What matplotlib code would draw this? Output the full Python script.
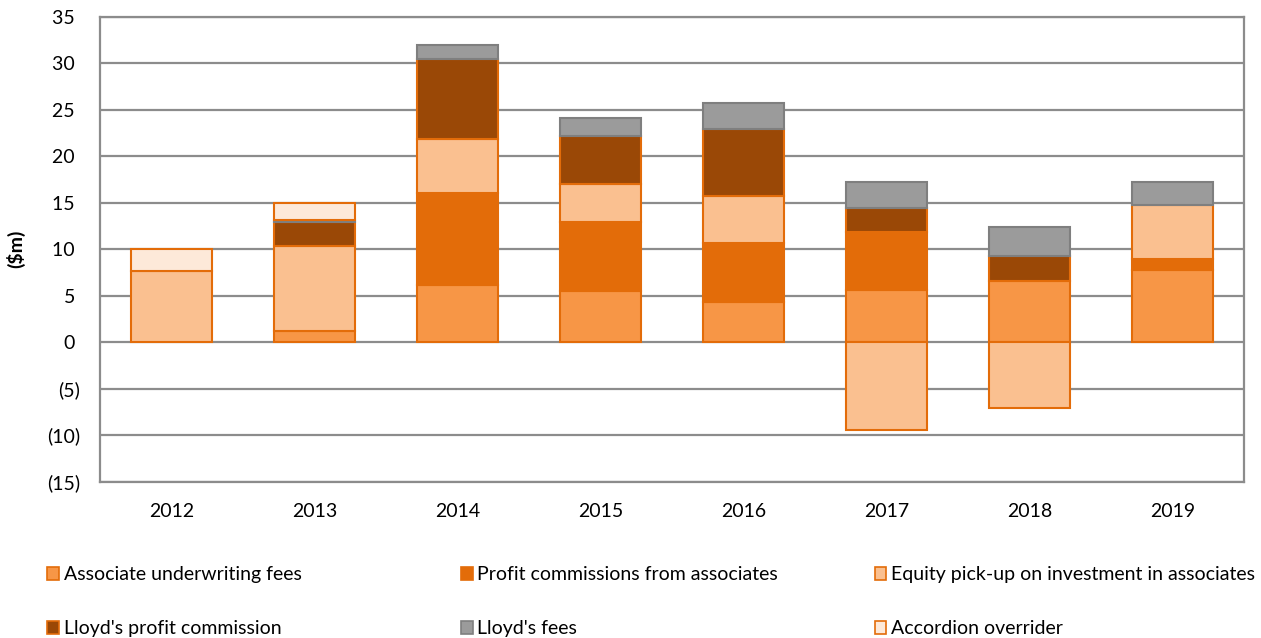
import matplotlib
matplotlib.use("Agg")
import matplotlib.pyplot as plt
import numpy as np
from matplotlib.patches import Patch

plt.rcParams['font.family'] = ['Lato', 'DejaVu Sans']

years = ['2012', '2013', '2014', '2015', '2016', '2017', '2018', '2019']
associate_fees = [0.0, 1.2, 6.1, 5.5, 4.3, 5.6, 6.6, 7.8]
profit_comm_assoc = [0.0, 0.0, 9.9, 7.4, 6.4, 6.2, 0.0, 1.1]
equity_pickup = [7.7, 9.1, 5.8, 4.1, 5.0, -9.4, -7.1, 5.8]
lloyds_profit_comm = [0.0, 2.6, 8.6, 5.2, 7.2, 2.6, 2.7, 0.0]
lloyds_fees = [0.0, 0.2, 1.6, 1.9, 2.8, 2.8, 3.1, 2.5]
accordion = [2.3, 1.9, 0.0, 0.0, 0.0, 0.0, 0.0, 0.0]

series = [
    ("Associate underwriting fees", associate_fees, "#F79646", "#E36C09"),
    ("Profit commissions from associates", profit_comm_assoc, "#E36C09", "#E36C09"),
    ("Equity pick-up on investment in associates", equity_pickup, "#FAC090", "#E36C09"),
    ("Lloyd's profit commission", lloyds_profit_comm, "#9A4806", "#E36C09"),
    ("Lloyd's fees", lloyds_fees, "#9B9B9B", "#7F7F7F"),
    ("Accordion overrider", accordion, "#FDE9D9", "#E36C09"),
]

fig = plt.figure(figsize=(12.61, 6.38), dpi=100)
ax = fig.add_axes([100 / 1261, 1 - 481.7 / 638, 1144 / 1261, 465 / 638])

x = np.arange(len(years))
pos_bottom = np.zeros(len(years))
neg_bottom = np.zeros(len(years))
width = 0.573
for label, vals, fc, ec in series:
    v = np.array(vals, dtype=float)
    bottoms = np.where(v >= 0, pos_bottom, neg_bottom)
    mask = v != 0
    ax.bar(x[mask], v[mask], width=width, bottom=bottoms[mask], color=fc,
           edgecolor=ec, linewidth=1.5, zorder=3)
    pos_bottom += np.where(v > 0, v, 0)
    neg_bottom += np.where(v < 0, v, 0)

ax.set_xlim(-0.5, len(years) - 0.5)
ax.set_ylim(-15, 35)
yt = np.arange(-15, 36, 5)
ax.set_yticks(yt)
ax.set_yticklabels([f"({abs(t)})" if t < 0 else f"{t} " for t in yt], fontsize=14)
ax.set_xticks(x)
ax.set_xticklabels(years, fontsize=14)
ax.tick_params(axis='both', length=0)
ax.tick_params(axis='x', pad=15.5)
ax.tick_params(axis='y', pad=14.4)
ax.yaxis.grid(True, color="#8C8C8C", linewidth=1.6, zorder=0)
ax.set_axisbelow(True)
for s in ax.spines.values():
    s.set_color("#8C8C8C")
    s.set_linewidth(1.6)
ax.set_ylabel("($m)", fontsize=14, fontweight='bold')
ax.yaxis.set_label_coords((25 - 100) / 1144, 0.5)

handles = [Patch(facecolor=fc, edgecolor=ec, linewidth=1.2, label=l) for l, _, fc, ec in series]
col_x = [0.0375, 0.3655, 0.6935]
for i in range(3):
    leg = fig.legend(handles=[handles[i], handles[i + 3]], loc='upper left',
                     bbox_to_anchor=(col_x[i], 0.113), frameon=False, fontsize=14,
                     handlelength=0.6, handleheight=0.65, handletextpad=0.25,
                     labelspacing=1.9, borderaxespad=0, borderpad=0)

fig.savefig("out.png", dpi=100)
